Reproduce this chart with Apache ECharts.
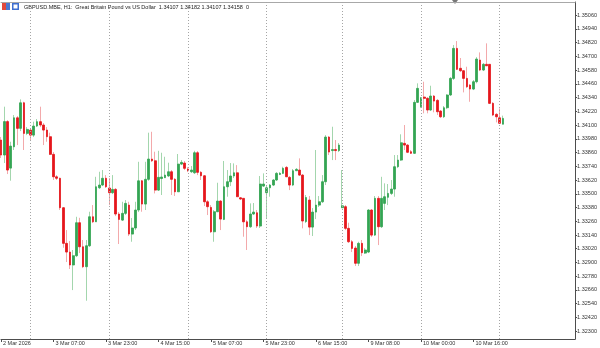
<!DOCTYPE html>
<html><head><meta charset="utf-8">
<script src="https://cdn.jsdelivr.net/npm/echarts@6/dist/echarts.min.js"></script>
<style>html,body{margin:0;padding:0;background:#fff}#c{width:600px;height:348px}</style>
</head><body><div id="c"></div>
<script>
// H1 bars from 2 Mar 2026 15:00 to 11 Mar 01:00
const openP = [1.33969,1.33838,1.34130,1.33724,1.33910,1.34163,1.34071,1.34294,1.34027,1.34056,
1.34012,1.34091,1.34129,1.34100,1.34056,1.33998,1.33844,1.33648,1.33635,1.33378,
1.33067,1.32991,1.32878,1.32959,1.33247,1.33037,1.32863,1.33046,1.33299,1.33255,
1.33552,1.33576,1.33635,1.33550,1.33509,1.33538,1.33323,1.33270,1.33329,1.33401,
1.33148,1.33201,1.33358,1.33613,1.33410,1.33626,1.33803,1.33788,1.33532,1.33633,
1.33640,1.33655,1.33692,1.33626,1.33517,1.33759,1.33768,1.33716,1.33692,1.33683,
1.33858,1.33687,1.33657,1.33430,1.33381,1.33168,1.33343,1.33436,1.33276,1.33561,
1.33605,1.33655,1.33683,1.33465,1.33460,1.33255,1.33212,1.33323,1.33334,1.33218,
1.33567,1.33509,1.33552,1.33576,1.33620,1.33669,1.33678,1.33730,1.33643,1.33576,
1.33701,1.33707,1.33663,1.33257,1.33445,1.33209,1.33340,1.33401,1.33430,1.33605,
1.33995,1.33877,1.33886,1.33877,1.33378,1.33387,1.33198,1.33081,1.33026,1.32893,
1.33067,1.32982,1.32991,1.33358,1.33139,1.33460,1.33212,1.33416,1.33469,1.33503,
1.33541,1.33736,1.33794,1.33940,1.33925,1.33867,1.33853,1.34298,1.34260,1.34344,
1.34333,1.34231,1.34353,1.34315,1.34222,1.34172,1.34251,1.34362,1.34507,1.34769,
1.34595,1.34574,1.34507,1.34449,1.34414,1.34478,1.34667,1.34580,1.34630,1.34630,
1.34289,1.34193,1.34163,1.34107];
const highP = [1.33995,1.34260,1.34143,1.33954,1.34187,1.34178,1.34324,1.34303,1.34082,1.34074,
1.34129,1.34152,1.34260,1.34117,1.34082,1.34033,1.33864,1.33663,1.33641,1.33384,
1.33183,1.33087,1.33009,1.33299,1.33290,1.33096,1.33096,1.33343,1.33401,1.33648,
1.33692,1.33707,1.33663,1.33637,1.33663,1.33550,1.33340,1.33430,1.33445,1.33430,
1.33288,1.33430,1.33779,1.33620,1.33779,1.34033,1.34041,1.33867,1.33875,1.33858,
1.33823,1.33771,1.33707,1.33637,1.33847,1.33794,1.33786,1.33733,1.33742,1.33875,
1.33873,1.33698,1.33663,1.33445,1.33401,1.33358,1.33596,1.33445,1.33786,1.33707,
1.33768,1.33765,1.33750,1.33471,1.33462,1.33270,1.33416,1.33419,1.33358,1.33655,
1.33678,1.33567,1.33585,1.33628,1.33689,1.33689,1.33736,1.33742,1.33655,1.33716,
1.33724,1.33809,1.33672,1.33489,1.33480,1.33375,1.33882,1.33480,1.33663,1.34012,
1.34004,1.34085,1.33969,1.33943,1.33707,1.33401,1.33247,1.33096,1.33044,1.33081,
1.33096,1.33026,1.33366,1.33366,1.33480,1.33480,1.33648,1.33591,1.33585,1.33620,
1.33838,1.33838,1.34019,1.34100,1.33934,1.33882,1.34318,1.34464,1.34344,1.34478,
1.34344,1.34443,1.34362,1.34327,1.34231,1.34266,1.34370,1.34519,1.34798,1.34833,
1.34685,1.34580,1.34609,1.34458,1.34493,1.34693,1.34734,1.34641,1.34813,1.34632,
1.34300,1.34204,1.34245,1.34182];
const lowP = [1.33812,1.33768,1.33672,1.33614,1.33882,1.33925,1.34047,1.33882,1.34012,1.33963,
1.33995,1.34082,1.34082,1.33925,1.33954,1.33838,1.33620,1.33620,1.33358,1.33029,
1.32904,1.32843,1.32659,1.32947,1.32982,1.32851,1.32566,1.33035,1.33244,1.33253,
1.33541,1.33567,1.33550,1.33401,1.33497,1.33305,1.33061,1.33262,1.33314,1.33131,
1.33081,1.33183,1.33340,1.33343,1.33358,1.33613,1.33777,1.33503,1.33524,1.33489,
1.33637,1.33646,1.33489,1.33480,1.33515,1.33750,1.33707,1.33689,1.33681,1.33672,
1.33663,1.33620,1.33393,1.33314,1.33157,1.33081,1.33340,1.33183,1.33270,1.33474,
1.33567,1.33637,1.33471,1.33445,1.33125,1.33009,1.33201,1.33314,1.33201,1.33201,
1.33559,1.33288,1.33474,1.33567,1.33611,1.33663,1.33672,1.33646,1.33532,1.33567,
1.33698,1.33655,1.33198,1.33244,1.33139,1.33131,1.33279,1.33384,1.33419,1.33576,
1.33838,1.33794,1.33794,1.33864,1.33375,1.33183,1.33070,1.32991,1.32869,1.32869,
1.32956,1.32974,1.32982,1.33122,1.33131,1.33052,1.33201,1.33358,1.33401,1.33489,
1.33474,1.33724,1.33786,1.33882,1.33855,1.33847,1.33847,1.34292,1.34248,1.34202,
1.34202,1.34222,1.34211,1.34187,1.34161,1.34161,1.34239,1.34353,1.34493,1.34580,
1.34562,1.34385,1.34423,1.34303,1.34405,1.34464,1.34571,1.34571,1.34615,1.34283,
1.34178,1.34123,1.34110,1.34107];
const closeP = [1.33838,1.34130,1.33707,1.33916,1.34163,1.34071,1.34294,1.34027,1.34062,1.34012,
1.34091,1.34129,1.34100,1.34056,1.33998,1.33844,1.33648,1.33635,1.33378,1.33067,
1.32991,1.32878,1.32959,1.33247,1.33037,1.32863,1.33046,1.33299,1.33255,1.33561,
1.33576,1.33635,1.33561,1.33509,1.33538,1.33323,1.33276,1.33329,1.33416,1.33148,
1.33201,1.33358,1.33613,1.33410,1.33626,1.33803,1.33788,1.33532,1.33643,1.33646,
1.33663,1.33692,1.33626,1.33517,1.33759,1.33774,1.33722,1.33701,1.33707,1.33858,
1.33687,1.33657,1.33430,1.33387,1.33168,1.33343,1.33436,1.33279,1.33561,1.33605,
1.33655,1.33683,1.33474,1.33454,1.33255,1.33212,1.33323,1.33340,1.33218,1.33585,
1.33585,1.33552,1.33576,1.33620,1.33678,1.33678,1.33722,1.33648,1.33576,1.33701,
1.33713,1.33663,1.33262,1.33467,1.33209,1.33340,1.33401,1.33430,1.33605,1.33995,
1.33864,1.33886,1.33877,1.33925,1.33395,1.33198,1.33081,1.33023,1.32893,1.33067,
1.32985,1.33009,1.33358,1.33139,1.33460,1.33212,1.33460,1.33474,1.33503,1.33541,
1.33736,1.33794,1.33945,1.33925,1.33862,1.33853,1.34298,1.34420,1.34338,1.34333,
1.34231,1.34353,1.34309,1.34216,1.34172,1.34251,1.34362,1.34507,1.34769,1.34586,
1.34574,1.34507,1.34434,1.34414,1.34478,1.34676,1.34580,1.34630,1.34617,1.34289,
1.34187,1.34172,1.34115,1.34158];

const tickLabels = ["2 Mar 2026","3 Mar 07:00","3 Mar 23:00","4 Mar 15:00","5 Mar 07:00",
  "5 Mar 23:00","6 Mar 15:00","9 Mar 08:00","10 Mar 00:00","10 Mar 16:00"];
const tickStep = 16;                       // one time label every 16 bars
const daySeparators = [9,33,57,81,104,128,152]; // bar index where each new day starts
const slotCount = 176;                     // bars + empty chart-shift slots
const priceTicks = [1.32300,1.32420,1.32540,1.32660,1.32780,1.32900,1.33020,1.33140,
  1.33260,1.33380,1.33500,1.33620,1.33740,1.33860,1.33980,1.34100,1.34220,1.34340,
  1.34460,1.34580,1.34700,1.34820,1.34940,1.35060];
const symbolText = "GBPUSD.MBE, H1:  Great Britain Pound vs US Dollar";

const categories = Array.from({length: slotCount}, (_, i) => String(i));
const ohlc = openP.map((o, i) => [o, closeP[i], lowP[i], highP[i]]);
const bodies = openP.map((o, i) => [o, closeP[i], Math.min(o, closeP[i]), Math.max(o, closeP[i])]);
const last = openP.length - 1;
const titleText = symbolText + "  " + [openP[last], highP[last], lowP[last], closeP[last]].map(v => v.toFixed(5)).join(" ") + "  0";
const isTick = i => i % tickStep === 0 && i / tickStep < tickLabels.length;
const FONT = 'Liberation Sans';

const chart = echarts.init(document.getElementById('c'), null, {renderer: 'canvas'});
chart.setOption({
  animation: false,
  backgroundColor: '#ffffff',
  grid: {left: 0, right: 23, top: 2, bottom: 9},
  xAxis: [{
    type: 'category', data: categories, boundaryGap: false,
    axisLine: {lineStyle: {color: '#4d4d4d', width: 1}},
    axisTick: {interval: (i) => isTick(i), length: 3, lineStyle: {color: '#4d4d4d'}},
    axisLabel: {interval: (i) => isTick(i), formatter: (v, i) => tickLabels[i / tickStep] || '',
      align: 'left', fontSize: 5.5, fontFamily: FONT, color: '#333', margin: 1, padding: [0, 0, 0, 2]},
    splitLine: {show: false}
  }, {
    type: 'category', data: categories, boundaryGap: false, position: 'top',
    axisLine: {lineStyle: {color: '#a8a8a8'}}, axisTick: {show: false}, axisLabel: {show: false}
  }],
  yAxis: {
    type: 'value', position: 'right', min: 1.32232, max: 1.35174,
    axisLine: {show: true, lineStyle: {color: '#4d4d4d'}},
    axisTick: {show: true, length: 2, customValues: priceTicks, lineStyle: {color: '#4d4d4d'}},
    axisLabel: {customValues: priceTicks, formatter: v => v.toFixed(5), fontSize: 5.5,
      fontFamily: FONT, color: '#333', margin: 2},
    splitLine: {show: false}
  },
  series: [{
    type: 'candlestick', data: ohlc, barWidth: 1,
    itemStyle: {color: '#a3d6ad', color0: '#f3a9ab', borderColor: '#a3d6ad', borderColor0: '#f3a9ab', borderWidth: 1},
    emphasis: {disabled: true},
    markLine: {
      silent: true, symbol: ['none', 'none'], label: {show: false},
      lineStyle: {color: '#a5a5a5', type: [1, 2], width: 1},
      data: daySeparators.map(i => ({xAxis: String(i)}))
    }
  }, {
    type: 'candlestick', data: bodies, barWidth: 2.2,
    itemStyle: {color: '#34a453', color0: '#e5161c', borderColor: '#34a453', borderColor0: '#e5161c', borderWidth: 0.8},
    emphasis: {disabled: true}
  }],
  graphic: [
    {type: 'rect', shape: {x: 2, y: 3, width: 8, height: 7}, style: {fill: '#4a78d0'}},
    {type: 'rect', shape: {x: 2, y: 3, width: 4, height: 7}, style: {fill: '#e2493c'}},
    {type: 'rect', shape: {x: 12, y: 3, width: 7, height: 7}, style: {fill: '#3f6fd0'}},
    {type: 'rect', shape: {x: 13.5, y: 4.5, width: 4, height: 4}, style: {fill: '#ffffff'}},
    {type: 'text', x: 24, y: 4, style: {text: titleText, fontSize: 5.5, fontFamily: FONT, fill: '#222', verticalAlign: 'top'}},
    {type: 'polygon', shape: {points: [[452, 0], [458, 0], [455, 4]]}, style: {fill: '#777'}}
  ]
});
</script></body></html>
